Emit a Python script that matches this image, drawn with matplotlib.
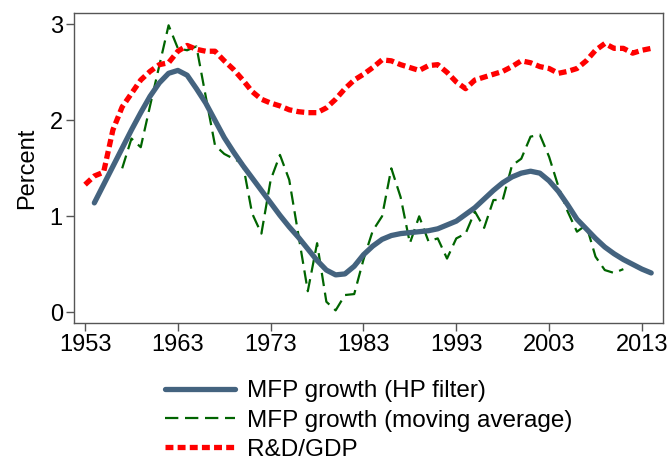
import matplotlib

matplotlib.use("Agg")

import matplotlib.pyplot as plt

# Annual values
hp_years = list(range(1954, 2015))
hp_vals = [
    1.14, 1.33, 1.52, 1.71, 1.90, 2.08, 2.25, 2.39, 2.49, 2.52,
    2.47, 2.33, 2.18, 2.00, 1.82, 1.67, 1.53, 1.40, 1.27, 1.14,
    1.01, 0.89, 0.78, 0.66, 0.54, 0.44, 0.39, 0.40, 0.48, 0.60,
    0.69, 0.76, 0.80, 0.82, 0.83, 0.84, 0.85, 0.87, 0.91, 0.95,
    1.02, 1.09, 1.18, 1.27, 1.35, 1.41, 1.45, 1.47, 1.45, 1.37,
    1.26, 1.12, 0.97, 0.87, 0.77, 0.68, 0.61, 0.55, 0.50, 0.45,
    0.41,
]

ma_years = list(range(1957, 2012))
ma_vals = [
    1.50, 1.81, 1.72, 2.15, 2.57, 2.99, 2.75, 2.73, 2.77, 2.25,
    1.74, 1.65, 1.60, 1.55, 1.03, 0.82, 1.38, 1.64, 1.38, 0.80,
    0.22, 0.72, 0.11, 0.02, 0.18, 0.19, 0.55, 0.85, 1.00, 1.50,
    1.20, 0.72, 1.00, 0.74, 0.77, 0.56, 0.77, 0.82, 1.05, 0.88,
    1.17, 1.17, 1.53, 1.60, 1.83, 1.85, 1.62, 1.31, 1.05, 0.84,
    0.91, 0.58, 0.44, 0.41, 0.45,
]

rd_years = list(range(1953, 2015))
rd_vals = [
    1.33, 1.42, 1.46, 1.90, 2.14, 2.28, 2.42, 2.51, 2.58, 2.60,
    2.72, 2.78, 2.74, 2.72, 2.72, 2.62, 2.53, 2.42, 2.30, 2.22,
    2.18, 2.15, 2.11, 2.09, 2.08, 2.08, 2.13, 2.22, 2.33, 2.42,
    2.48, 2.55, 2.63, 2.62, 2.58, 2.55, 2.52, 2.57, 2.58, 2.50,
    2.40, 2.33, 2.42, 2.45, 2.48, 2.51, 2.56, 2.62, 2.60, 2.56,
    2.54, 2.49, 2.51, 2.54, 2.62, 2.73, 2.80, 2.75, 2.75, 2.70,
    2.73, 2.75,
]

xticks = list(range(1953, 2014, 10))
yticks = [0, 1, 2, 3]

plt.rcParams["font.family"] = ["Liberation Sans", "DejaVu Sans"]

fig = plt.figure(figsize=(6.72, 4.59), dpi=100)
ax = fig.add_axes([0.110, 0.297, 0.877, 0.674])

ax.plot(hp_years, hp_vals, color="#44637f", lw=3.8, solid_capstyle="round",
        label="MFP growth (HP filter)", zorder=3)
ax.plot(ma_years, ma_vals, color="#006400", lw=1.6, dashes=(6, 3),
        label="MFP growth (moving average)", zorder=2)
ax.plot(rd_years, rd_vals, color="#ff0000", lw=3.8, dashes=(1.5, 0.8),
        label="R&D/GDP", zorder=2)

ax.set_xlim(1951.8, 2015.3)
ax.set_ylim(-0.108, 3.115)
ax.set_xticks(xticks)
ax.set_yticks(yticks)
ax.tick_params(labelsize=17, length=6, width=1, color="#555555", pad=2)
ax.set_ylabel("Percent", fontsize=17, labelpad=8)

for s in ax.spines.values():
    s.set_color("#555555")
    s.set_linewidth(1)

ax.legend(loc="upper center", bbox_to_anchor=(0.5, -0.155), frameon=False,
          fontsize=17.5, handlelength=2.9, handletextpad=0.5, labelspacing=0.3,
          borderaxespad=0)

fig.savefig("out.png", dpi=100)
